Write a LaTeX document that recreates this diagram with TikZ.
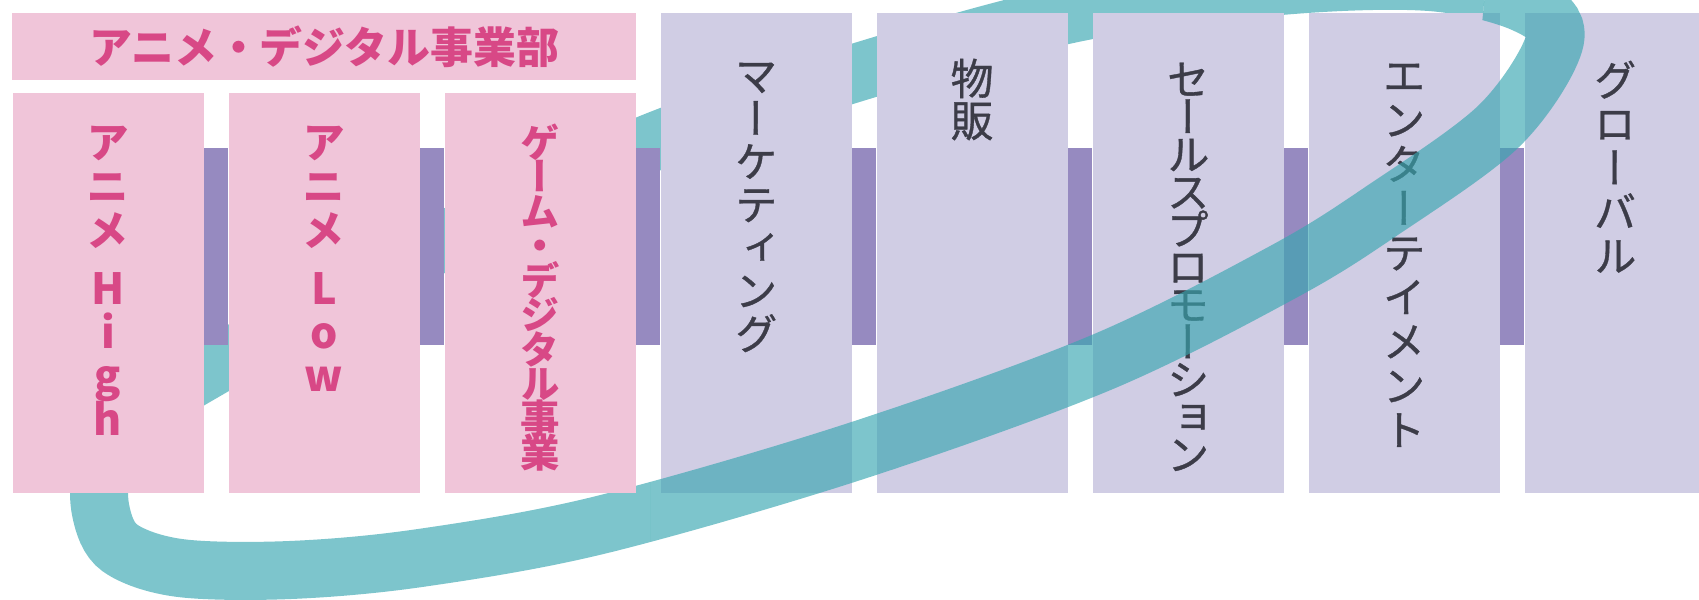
\documentclass[tikz,border=0pt]{standalone}
\usepackage{fontspec}
\newfontfamily\jp{Noto Sans CJK JP}
\newfontfamily\jpv[RawFeature=+vert]{Noto Sans CJK JP}
\newfontfamily\jpvm[RawFeature=+vert, FakeBold=0.8]{Noto Sans CJK JP}
\definecolor{pinkbox}{HTML}{F0C5D9}
\definecolor{pinktext}{HTML}{D84886}
\definecolor{lavbox}{HTML}{D0CDE4}
\definecolor{barc}{HTML}{968AC0}
\definecolor{darktext}{HTML}{3C3C48}
\definecolor{bandc}{HTML}{38A6B0}
\lineskiplimit=-100pt
\tikzset{
  pcol/.style={fill=pinkbox, draw=none, minimum width=1.91cm, minimum height=4.0cm, inner sep=0pt},
  lcol/.style={fill=lavbox, draw=none, minimum width=1.91cm, minimum height=4.8cm, inner sep=0pt},
  hdrbox/.style={fill=pinkbox, draw=none, minimum width=6.234cm, minimum height=0.67cm, inner sep=0pt,
    text=pinktext, font=\jp\bfseries\fontsize{12.2pt}{13pt}\selectfont},
  barfill/.style={fill=barc, draw=none},
  band/.style={draw=bandc, line width=0.58cm, draw opacity=0.65},
  vtext/.style={anchor=north, align=center, inner sep=0pt},
  pinktxt/.style={vtext, text=pinktext},
  darktxt/.style={vtext, text=darktext},
}
\begin{document}
\begin{tikzpicture}[x=0.01cm, y=-0.01cm]
\useasboundingbox (0,0) rectangle (1699,599);
\clip (0,0) rectangle (1699,599);
% back part of the ring
\begin{scope}
\clip (-60,-60) -- (1490,-60) -- (1480,45) -- (1300,120) -- (1000,250) -- (650,420) -- (650,700) -- (-60,700) -- cycle;
\draw[band] plot[smooth cycle, tension=0.55] coordinates {
  (1555,40) (1500,125) (1383,210) (1283,272) (1100,363) (853,452) (600,525) (420,558)
  (290,570) (180,568) (120,548) (101,512) (103,470) (135,418) (216,365) (432,247)
  (648,144) (865,70) (1080,12) (1280,-14) (1430,-18) (1525,4)};
\end{scope}
% header and columns
\node[hdrbox] (hdr) at (324.3,46.5) {アニメ・デジタル事業部};
\node[pcol] (c0) at (108.1,293) {};
\node[pcol] (c1) at (324.1,293) {};
\node[pcol] (c2) at (540.1,293) {};
\node[lcol] (c3) at (756.1,253) {};
\node[lcol] (c4) at (972.1,253) {};
\node[lcol] (c5) at (1188.1,253) {};
\node[lcol] (c6) at (1404.1,253) {};
\node[lcol] (c7) at (1620.1,253) {};
\coordinate (bt) at (0,148);
\coordinate (bb) at (0,345);
\foreach \a/\b in {c0/c1,c1/c2,c2/c3,c3/c4,c4/c5,c5/c6,c6/c7}
  \fill[barfill] (\a.east |- bt) rectangle (\b.west |- bb);
% texts
\node[pinktxt, font=\jpv\bfseries\fontsize{12.2pt}{12.5pt}\selectfont] (t0) at (108.1,125) {ア\\ニ\\メ\\[4pt]H\\i\\g\\h};
\node[pinktxt, font=\jpv\bfseries\fontsize{12.2pt}{12.5pt}\selectfont] (t1) at (324.1,125) {ア\\ニ\\メ\\[4pt]L\\o\\w};
\node[pinktxt, font=\jpv\bfseries\fontsize{11.2pt}{9.8pt}\selectfont] (t2) at (540.1,123) {ゲ\\ー\\ム\\・\\デ\\ジ\\タ\\ル\\事\\業};
\node[darktxt, font=\jpvm\fontsize{12.2pt}{12.23pt}\selectfont] (t3) at (756.1,62) {マ\\ー\\ケ\\テ\\ィ\\ン\\グ};
\node[darktxt, font=\jpvm\fontsize{12.2pt}{11.95pt}\selectfont] (t4) at (972.1,58) {物\\販};
\node[darktxt, font=\jpvm\fontsize{12.2pt}{10.67pt}\selectfont] (t5) at (1188.1,62) {セ\\ー\\ル\\ス\\プ\\ロ\\モ\\ー\\シ\\ョ\\ン};
\node[darktxt, font=\jpvm\fontsize{12.2pt}{12.6pt}\selectfont] (t6) at (1404.1,63) {エ\\ン\\タ\\ー\\テ\\イ\\メ\\ン\\ト};
\node[darktxt, font=\jpvm\fontsize{12.2pt}{12.5pt}\selectfont] (t7) at (1615,60) {グ\\ロ\\ー\\バ\\ル};
% front part of the ring
\begin{scope}
\clip (650,700) -- (650,420) -- (1000,250) -- (1300,120) -- (1480,45) -- (1490,-60) -- (1760,-60) -- (1760,700) -- cycle;
\draw[band] plot[smooth cycle, tension=0.55] coordinates {
  (1555,40) (1500,125) (1383,210) (1283,272) (1100,363) (853,452) (600,525) (420,558)
  (290,570) (180,568) (120,548) (101,512) (103,470) (135,418) (216,365) (432,247)
  (648,144) (865,70) (1080,12) (1280,-14) (1430,-18) (1525,4)};
\end{scope}
\end{tikzpicture}
\end{document}
